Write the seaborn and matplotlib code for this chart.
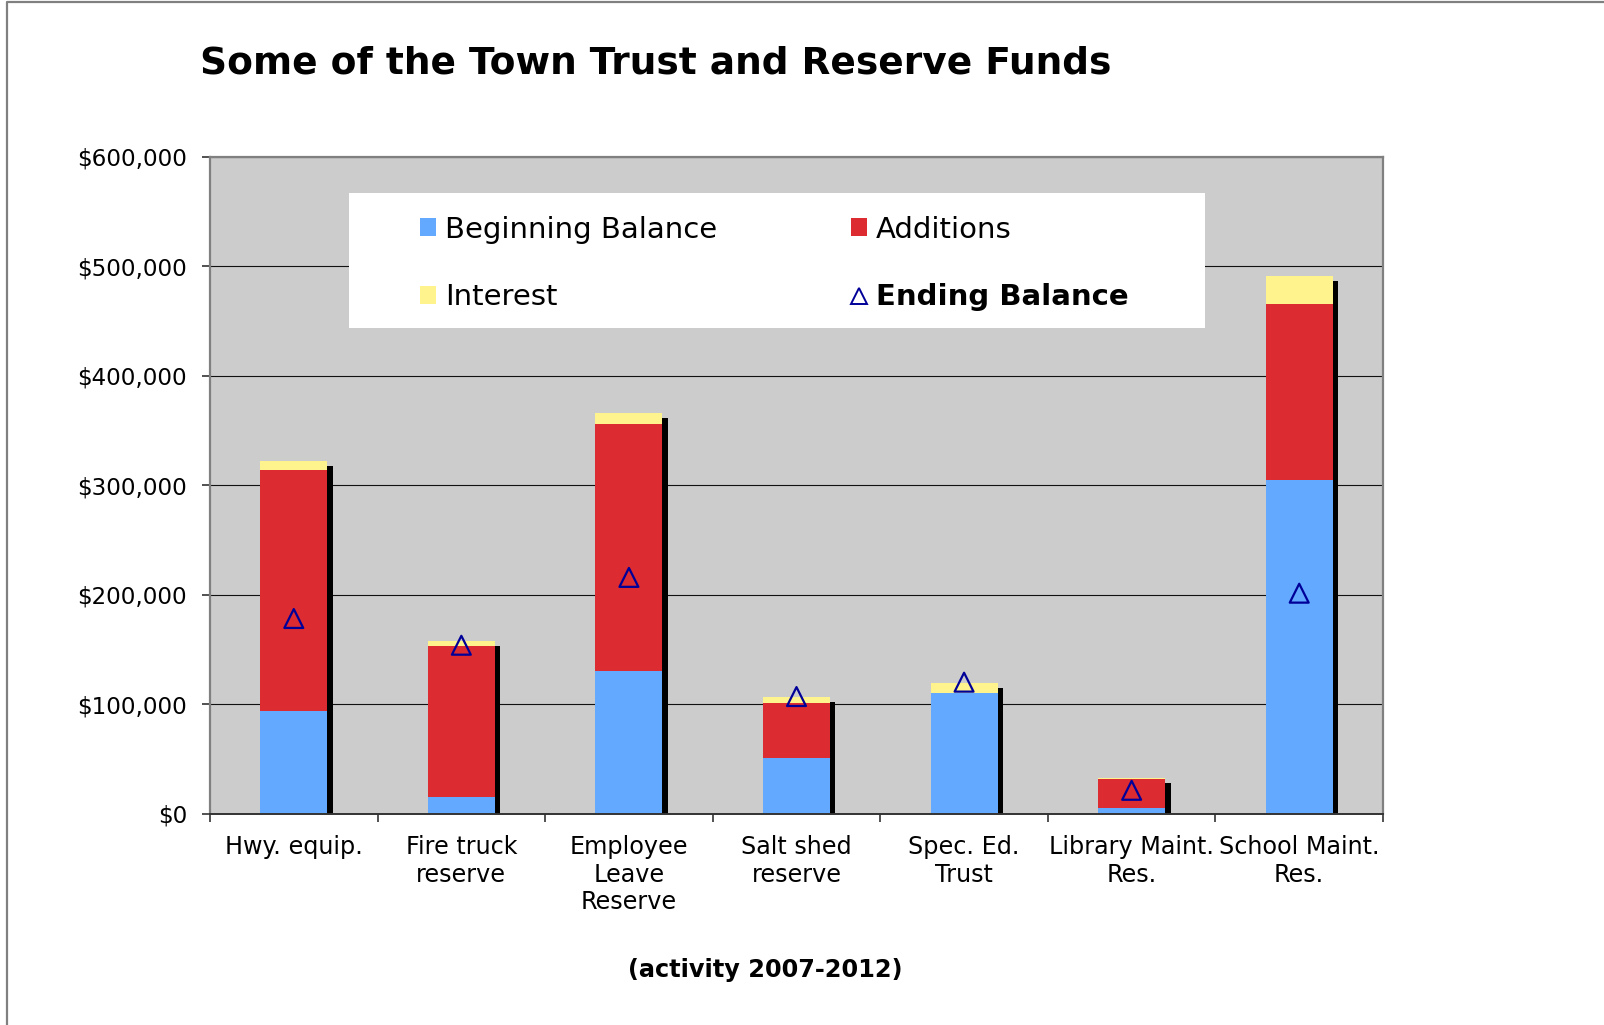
import numpy as np
import pandas as pd
import matplotlib
matplotlib.use("Agg")
import matplotlib.pyplot as plt
import seaborn as sns
from matplotlib.patches import Patch, Rectangle
from matplotlib.lines import Line2D
from matplotlib.ticker import FuncFormatter, FixedLocator

# Fund activity, 2007-2012 (dollars)
funds = ["Hwy. equip.", "Fire truck\nreserve", "Employee\nLeave\nReserve",
         "Salt shed\nreserve", "Spec. Ed.\nTrust", "Library Maint.\nRes.",
         "School Maint.\nRes."]
beginning = [94200, 15200, 130600, 51100, 110500, 5800, 305200]
additions = [220000, 137900, 225300, 50300, 0, 26500, 159900]
interest = [7600, 4600, 10300, 5400, 9500, 300, 25800]
ending = [178400, 154000, 215900, 107200, 120300, 21600, 201500]

BLUE = "#63A9FF"
RED = "#DC2B31"
YELLOW = "#FFF38E"
NAVY = "#000099"
PLOT_BG = "#CCCCCC"

df = pd.DataFrame({"fund": funds, "beginning": beginning,
                   "additions": additions, "interest": interest,
                   "ending": ending})
df["lvl_add"] = df["beginning"] + df["additions"]
df["total"] = df["lvl_add"] + df["interest"]

W, H = 1604, 1025
fig = plt.figure(figsize=(W / 100, H / 100), dpi=100)
ax = fig.add_axes([210 / W, 1 - 814 / H, (1383 - 210) / W, (814 - 156.5) / H])
ax.set_facecolor(PLOT_BG)

# stacked columns: draw cumulative levels from the top down
for col, colr in [("total", YELLOW), ("lvl_add", RED), ("beginning", BLUE)]:
    sns.barplot(data=df, x="fund", y=col, order=funds, color=colr,
                width=0.4, saturation=1, linewidth=0, errorbar=None,
                ax=ax, zorder=2)

# drop shadow behind each column
xpos = np.arange(len(funds))
ax.bar(xpos + 0.032, df["total"] - 4600, width=0.4, color="black",
       linewidth=0, zorder=1.5)

# ending balance markers
sns.scatterplot(data=df, x="fund", y="ending", marker="^", s=185,
                facecolors="none", edgecolor=NAVY, linewidth=1.6,
                ax=ax, zorder=5, legend=False)

ax.set_xlim(-0.5, len(funds) - 0.5)
ax.set_ylim(0, 600000)
ax.set_xlabel("")
ax.set_ylabel("")

ax.yaxis.set_major_locator(FixedLocator(np.arange(0, 600001, 100000)))
ax.yaxis.set_major_formatter(FuncFormatter(lambda v, p: f"${v:,.0f}"))
ax.grid(axis="y", color="#111111", linewidth=0.8)
ax.grid(axis="x", visible=False)
ax.set_axisbelow(True)

ax.set_xticks(xpos)
ax.set_xticklabels(funds, fontsize=17.2, linespacing=1.2)
ax.xaxis.set_minor_locator(FixedLocator(np.arange(-0.5, len(funds), 1.0)))
ax.tick_params(axis="x", which="major", length=0, pad=15)
ax.tick_params(axis="x", which="minor", length=6, width=1.2, direction="out",
               color="#333333")
ax.tick_params(axis="y", length=6, width=1.2, direction="out", pad=10.5,
               labelsize=16.6, color="#333333")

for side in ["left", "top", "right"]:
    ax.spines[side].set_color("#808080")
    ax.spines[side].set_linewidth(1.6)
ax.spines["bottom"].set_color("#333333")
ax.spines["bottom"].set_linewidth(1.4)

# legend panel
ax.add_patch(Rectangle((349 / W, 1 - 328 / H), 856 / W, 135 / H,
                       transform=fig.transFigure, facecolor="white",
                       edgecolor="none", zorder=6, clip_on=False))
handles = [Patch(facecolor=BLUE, edgecolor="none"),
           Patch(facecolor=YELLOW, edgecolor="none"),
           Patch(facecolor=RED, edgecolor="none"),
           Line2D([], [], linestyle="none", marker="^", markersize=11,
                  markerfacecolor="none", markeredgecolor=NAVY,
                  markeredgewidth=1.4)]
labels = ["Beginning Balance", "Interest", "Additions", "Ending Balance"]
leg = ax.legend(handles, labels, ncol=2, frameon=False, loc="upper left",
                bbox_to_anchor=(420 / W, 1 - 215.5 / H),
                bbox_transform=fig.transFigure, borderpad=0, borderaxespad=0,
                fontsize=21, handlelength=0.55, handleheight=0.55,
                handletextpad=0.3, columnspacing=4.6, labelspacing=1.36)
leg.set_zorder(7)
leg.get_texts()[3].set_fontweight("bold")

fig.text(200 / W, 1 - 64 / H, "Some of the Town Trust and Reserve Funds",
         fontsize=27.0, fontweight="bold", ha="left", va="center")
fig.text(765.5 / W, 1 - 970 / H, "(activity 2007-2012)", fontsize=17.3,
         fontweight="bold", ha="center", va="center")

# outer chart frame
fig.add_artist(Line2D([7 / W, 7 / W, 1.0], [0.0, 1 - 2 / H, 1 - 2 / H],
                      transform=fig.transFigure, color="#808080",
                      linewidth=1.6))

fig.savefig("out.png", dpi=100, facecolor="white")
